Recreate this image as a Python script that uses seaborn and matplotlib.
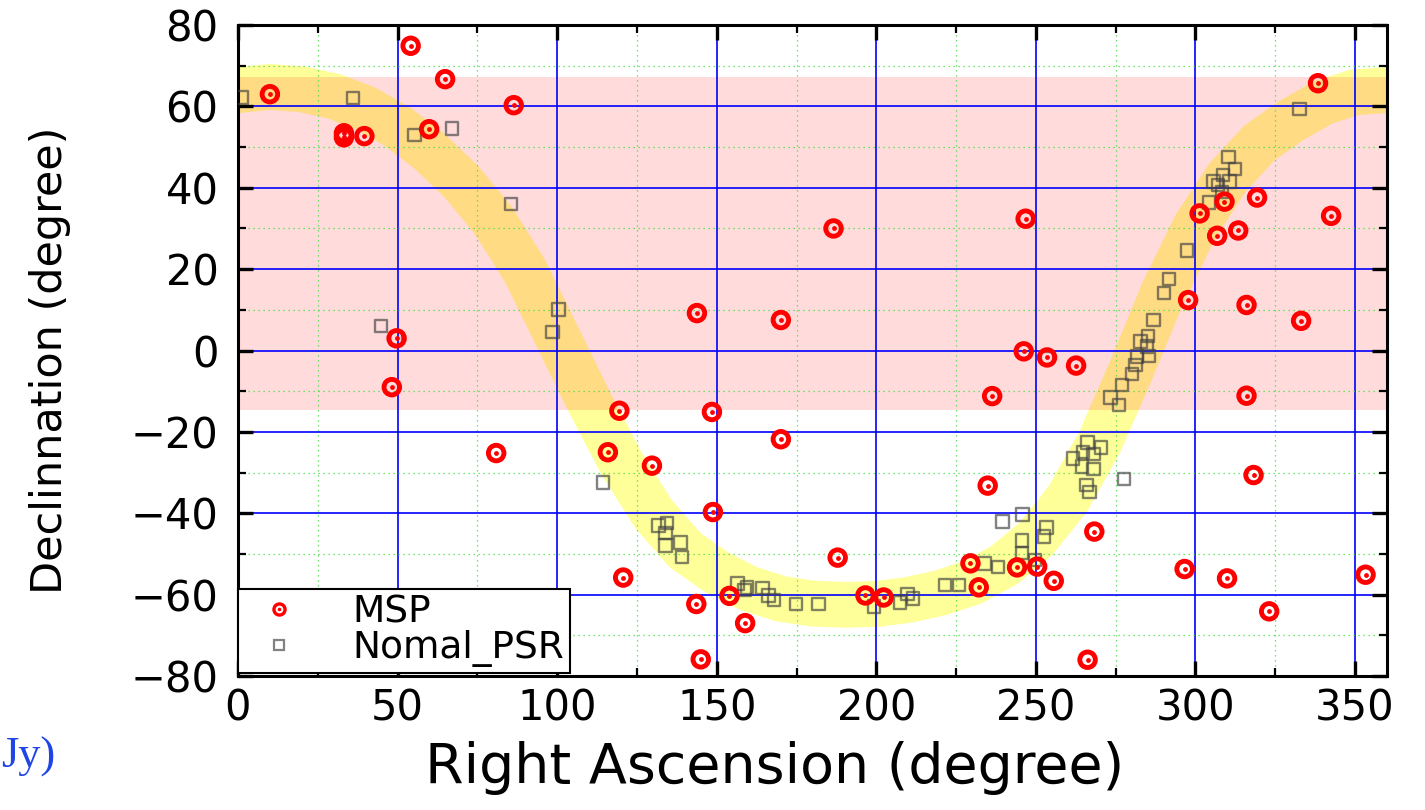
import matplotlib
matplotlib.use("Agg")
import matplotlib.pyplot as plt
from matplotlib.lines import Line2D
from matplotlib.ticker import MultipleLocator
import seaborn as sns

# Millisecond pulsars: right ascension / declination (degrees)
msp_ra = [10.0, 33.2, 33.2, 39.6, 54.1, 64.9, 59.9, 86.4, 49.7, 48.2,
          80.9, 119.5, 115.9, 129.7, 143.8, 170.1, 148.5, 170.1, 246.2, 236.3,
          234.9, 186.6, 246.8, 120.7, 148.8, 143.6, 158.9, 145.0, 154.0, 187.9,
          196.6, 202.3, 229.5, 232.1, 244.1, 250.4, 255.6, 268.3, 296.6, 309.9,
          323.1, 353.3, 266.2, 318.2, 253.5, 262.6, 297.7, 316.0, 333.1, 316.0,
          301.3, 309.1, 319.3, 306.8, 313.4, 342.5, 338.4]
msp_dec = [63.0, 53.4, 52.4, 52.7, 74.9, 66.7, 54.4, 60.3, 3.0, -9.0,
           -25.2, -14.8, -25.0, -28.3, 9.2, 7.5, -15.1, -21.8, -0.2, -11.2,
           -33.2, 30.0, 32.4, -55.8, -39.7, -62.3, -67.0, -75.9, -60.3, -50.9,
           -60.2, -60.7, -52.3, -58.2, -53.3, -53.1, -56.6, -44.5, -53.7, -56.0,
           -64.1, -55.1, -76.0, -30.6, -1.7, -3.7, 12.4, 11.2, 7.3, -11.1,
           33.7, 36.6, 37.6, 28.2, 29.5, 33.1, 65.7]

# Normal pulsars
psr_ra = [1.2, 36.1, 55.3, 67.0, 85.6, 44.8, 49.5, 100.4, 98.5, 114.3,
          131.8, 134.4, 133.9, 133.9, 138.6, 139.1,
          156.5, 158.7, 159.5, 164.4, 166.2, 168.0, 174.8, 181.9,
          199.2, 207.5, 209.8, 211.5, 221.6, 226.0, 233.9, 238.2,
          239.5, 245.8, 245.7, 245.7, 249.8, 253.3, 252.5,
          265.8, 266.8, 277.7, 266.2, 270.4, 264.8, 268.1, 261.7, 264.5, 268.0,
          253.5, 273.4, 276.0, 277.0, 280.2, 281.2, 281.7, 285.4, 284.9, 282.8,
          285.2, 286.8, 290.1, 291.7, 297.4,
          304.2, 307.1, 305.7, 308.7, 310.7, 312.3, 310.4, 308.4, 332.6, 338.4]
psr_dec = [62.2, 62.0, 53.0, 54.6, 36.0, 6.0, 3.0, 10.1, 4.6, -32.4,
           -43.0, -42.4, -44.9, -47.9, -47.2, -50.8,
           -57.3, -58.8, -58.2, -58.4, -60.2, -61.3, -62.3, -62.3,
           -62.9, -61.9, -59.9, -60.9, -57.6, -57.6, -52.3, -53.2,
           -42.0, -40.3, -46.7, -49.7, -51.5, -43.5, -45.7,
           -33.0, -34.8, -31.6, -22.6, -23.8, -25.0, -25.4, -26.5, -28.5, -29.1,
           -1.9, -11.5, -13.4, -8.5, -5.7, -3.5, -1.5, -1.3, 1.0, 2.2,
           3.6, 7.5, 14.2, 17.6, 24.6,
           36.4, 40.7, 41.5, 43.1, 41.5, 44.6, 47.6, 39.0, 59.4, 65.7]

# Galactic plane track across the sky
plane_ra = [-10, 0, 10, 20, 30, 40, 50, 60, 70, 80, 90, 100, 110, 120, 130,
            140, 150, 160, 170, 180, 190, 200, 210, 220, 230, 240, 250, 260,
            270, 280, 290, 300, 310, 320, 330, 340, 350, 360, 370]
plane_dec = [62.5, 64.0, 64.8, 64.2, 62.5, 59.5, 55.0, 49.0, 41.5, 32.0,
             19.5, 3.5, -12.5, -27.5, -40.0, -49.0, -54.5, -58.5, -61.0,
             -62.2, -62.5, -62.3, -61.3, -59.6, -57.0, -52.8, -46.3, -36.5,
             -22.5, -4.5, 14.5, 30.5, 42.5, 51.0, 56.5, 61.0, 63.5, 64.0, 64.5]

# Declination strip visible to the survey
strip_low, strip_high = -14.6, 67.3

sns.set_theme(style="ticks")
plt.rcParams["font.family"] = ["DejaVu Sans"]
plt.rcParams["axes.unicode_minus"] = True
plt.rcParams["text.color"] = "black"
plt.rcParams["axes.labelcolor"] = "black"
plt.rcParams["xtick.labelcolor"] = "black"
plt.rcParams["ytick.labelcolor"] = "black"

fig = plt.figure(figsize=(14.25, 8.1), dpi=100)
ax = fig.add_axes([0.167, 0.1654, 0.8063, 0.8037])

sns.lineplot(x=plane_ra, y=plane_dec, ax=ax, sort=False, estimator=None,
             color="#ffff99", linewidth=33, zorder=0.1,
             solid_capstyle="butt", solid_joinstyle="round")
ax.axhspan(strip_low, strip_high, color="red", alpha=0.14, lw=0, zorder=0.2)

sns.scatterplot(x=psr_ra, y=psr_dec, ax=ax, marker="s", s=80,
                facecolors="none", edgecolor="#404040", linewidth=1.7,
                alpha=0.65, zorder=3)
sns.scatterplot(x=msp_ra, y=msp_dec, ax=ax, marker="o", s=11.2 ** 2,
                facecolors="none", edgecolor="red", linewidth=3.5, zorder=4)
sns.scatterplot(x=msp_ra, y=msp_dec, ax=ax, marker="o", s=12,
                color="red", linewidth=0, zorder=5)

ax.set_xlim(0, 360)
ax.set_ylim(-80, 80)
ax.xaxis.set_major_locator(MultipleLocator(50))
ax.xaxis.set_minor_locator(MultipleLocator(25))
ax.yaxis.set_major_locator(MultipleLocator(20))
ax.yaxis.set_minor_locator(MultipleLocator(10))

ax.set_axisbelow(True)
ax.grid(which="major", color="#0000ff", linewidth=1.2, linestyle="-")
ax.grid(which="minor", color="#44dd44", linewidth=0.9, linestyle=(0, (1, 3)))

ax.tick_params(which="both", direction="in", top=True, right=True,
               color="black", labelcolor="black")
ax.tick_params(which="major", length=11, width=2.4, labelsize=30)
ax.tick_params(which="minor", length=5.5, width=1.6)
ax.tick_params(axis="x", which="major", pad=8)
ax.tick_params(axis="y", which="major", pad=14)
for spine in ax.spines.values():
    spine.set_color("black")
    spine.set_linewidth(2.2)

ax.set_xlabel("Right Ascension (degree)", fontsize=40, color="black")
ax.set_ylabel("Declinnation (degree)", fontsize=31, color="black")
ax.xaxis.set_label_coords(0.467, -0.1)
ax.yaxis.set_label_coords(-0.145, 0.485)

ring = Line2D([], [], ls="none", marker="o", ms=8, mfc="none",
              mec="red", mew=2.4)
dot = Line2D([], [], ls="none", marker="o", ms=2.6, mfc="red",
             mec="red", mew=0)
square = Line2D([], [], ls="none", marker="s", ms=7.5, mfc="none",
                mec="#404040", mew=1.6, alpha=0.65)
leg = ax.legend([(ring, dot), square], ["MSP", "Nomal_PSR"],
                loc="lower left", bbox_to_anchor=(0, 0.005),
                borderaxespad=0, frameon=True, fancybox=False,
                edgecolor="black", framealpha=1, fontsize=27,
                borderpad=0.15, labelspacing=0.0, handlelength=1.9,
                handletextpad=1.0)
leg.get_frame().set_linewidth(1.5)
leg.set_zorder(10)
for t in leg.get_texts():
    t.set_color("black")

fig.text(0.001, 0.052, "Jy)", fontsize=32, color="#1f45e6",
         family=["Liberation Serif", "DejaVu Serif"])

fig.savefig("out.png", dpi=100)
